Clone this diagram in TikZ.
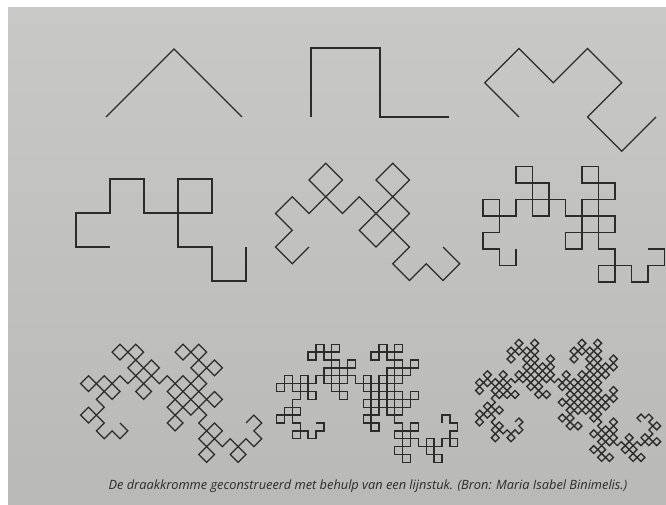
\documentclass[tikz,border=0pt]{standalone}
\usepackage{fontspec}
\setmainfont{Open Sans}
\usetikzlibrary{lindenmayersystems}
\definecolor{papertop}{HTML}{C8C8C6}
\definecolor{paperbot}{HTML}{B9B9B7}
\definecolor{ink}{HTML}{2B2B2B}
\pgfdeclarelindenmayersystem{Dragon}{
  \symbol{G}{\pgflsystemdrawforward}
  \rule{F -> F-G}
  \rule{G -> F+G}
}
\tikzset{
  dragonline/.style = {draw=ink, line width=1.35pt, line join=miter},
  caption/.style    = {font=\fontsize{12.8}{14}\selectfont\itshape, text=ink, inner sep=0pt},
}

\begin{document}
\begin{tikzpicture}[x=1pt, y=1pt]
  % page and paper
  \fill[white] (0,0) rectangle (666,505);
  \shade[top color=papertop, bottom color=paperbot] (8,0) rectangle (666,497);
  \useasboundingbox (0,0) rectangle (666,505);

  % orders 1..9, start x, baseline y (from the top), length
  \foreach \n/\x/\y/\len in {1/106/117/136, 2/311/117/138, 3/519/117/137,
                             4/110/247/136, 5/309/247/134, 6/516/249/132,
                             7/120/423/126, 8/316/423/126, 9/515/422/126}{
    \pgfmathsetmacro\stp{\len/(sqrt(2)^\n)}
    \pgfmathsetmacro\yy{505-\y}
    \draw[dragonline, shift={(\x,\yy)}, rotate=45*\n]
      [l-system={Dragon, axiom=F, order=\n, step=\stp pt, angle=90}]
      (0,0) lindenmayer system;
  }

  \node[caption] (cap) at (368,19)
    {De draakkromme geconstrueerd met behulp van een lijnstuk. (Bron: Maria Isabel Binimelis.)};
\end{tikzpicture}
\end{document}
